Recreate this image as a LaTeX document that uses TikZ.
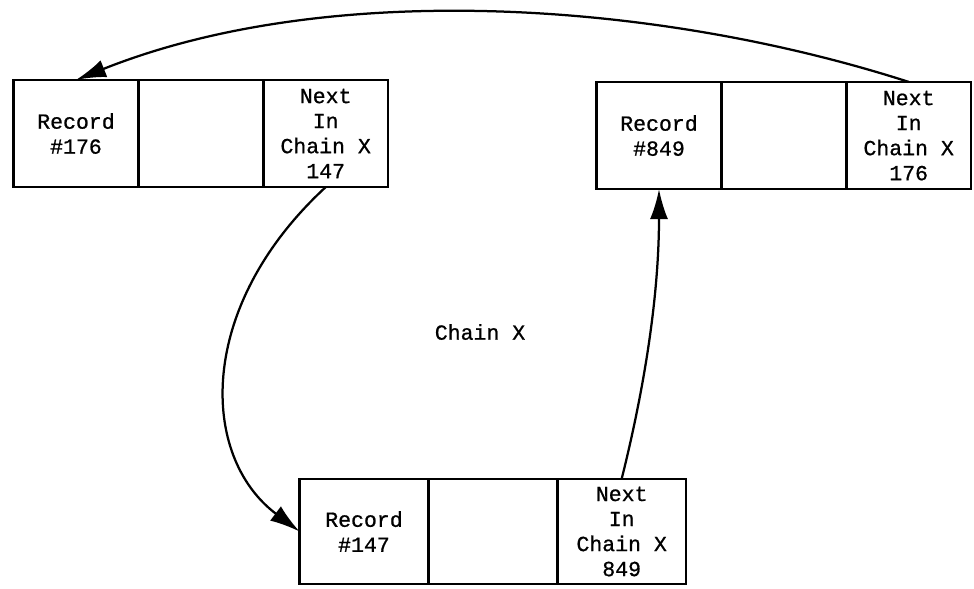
\documentclass[tikz,border=0pt]{standalone}
\usepackage{fontspec}
\newfontfamily\recfont[FakeBold=0.8]{Liberation Mono}
\usepackage{tikz}
\usetikzlibrary{arrows.meta,positioning}

\begin{document}
\begin{tikzpicture}[
  x=0.025cm, y=-0.025cm,
  every node/.style={font=\recfont\fontsize{15.3}{17.8}\selectfont},
  cell/.style={draw, line width=1.8pt, outer sep=0pt, inner sep=0pt,
               minimum width=3.12cm, minimum height=2.68cm, align=center},
  widecell/.style={cell, minimum width=3.22cm, minimum height=2.63cm},
  link/.style={-{Latex[length=7.5mm, width=4.5mm]}, line width=1.6pt},
]
\useasboundingbox (0,0) rectangle (974,588);

%% Record 176 (top left)
\node[cell] (r176) at (76,133.5) {Record\\\#176};
\node[cell, right=0pt of r176] (r176m) {};
\node[cell, right=0pt of r176m] (r176n) {Next\\In\\Chain X\\147};

%% Record 849 (top right)
\node[cell] (r849) at (659,135.5) {Record\\\#849};
\node[cell, right=0pt of r849] (r849m) {};
\node[cell, right=0pt of r849m, text depth=-0.25cm] (r849n) {Next\\In\\Chain X\\176};

%% Record 147 (bottom)
\node[widecell] (r147) at (364,531.5) {Record\\\#147};
\node[widecell, right=0pt of r147] (r147m) {};
\node[widecell, right=0pt of r147m] (r147n) {Next\\In\\Chain X\\849};

%% Chain label
\node (chain) at (480,332) {Chain X};

%% Links of chain X
\draw[link] (r176n.south) .. controls +(-130,120) and +(-100,-75) .. (r147.west);
\draw[link] (r147n.north) .. controls +(25,-100) and +(0,100) .. (r849.south);
\draw[link] (r849n.north) .. controls +(-255,-82) and +(250,-100) .. (r176.north);

\end{tikzpicture}
\end{document}
